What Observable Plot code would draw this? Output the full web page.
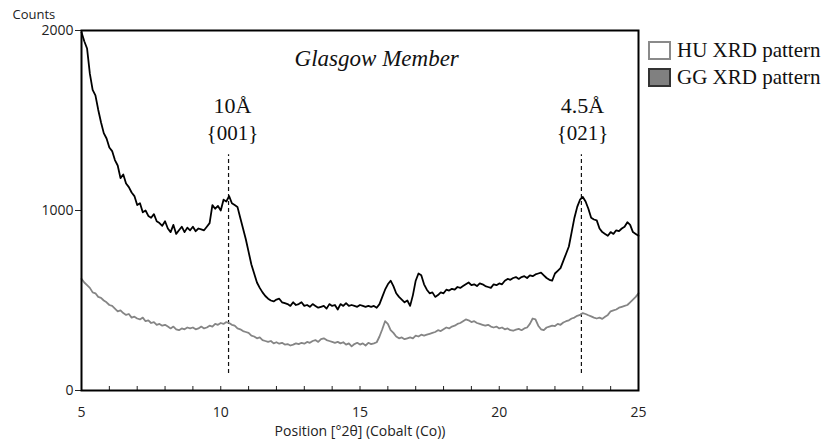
<!DOCTYPE html>
<html>
<head>
<meta charset="utf-8">
<script src="https://cdn.jsdelivr.net/npm/d3@7"></script>
<script src="https://cdn.jsdelivr.net/npm/@observablehq/plot@0.6"></script>
<style>
  html, body { margin: 0; padding: 0; background: #fff; }
  #wrap { position: relative; width: 822px; height: 441px; overflow: hidden; }
  .legend { position: absolute; left: 648px; top: 37px; font-family: "Liberation Serif", serif; font-size: 21px; color: #111; white-space: nowrap; }
  .legend .row { display: flex; align-items: center; height: 26px; margin-bottom: 1px; }
  .legend .sw { width: 23px; height: 19px; box-sizing: border-box; margin-right: 6px; }
</style>
</head>
<body>
<div id="wrap"></div>
<script>
// 2θ scan grid (degrees, Co Kα): start, step
const scanStart = 5.0;
const scanStep = 0.1;

// GG XRD pattern (counts), one value per step from 5.0° to 25.0°
const ggCounts = [
  1990, 1940, 1900, 1760, 1670, 1640, 1560, 1490, 1430, 1400,
  1350, 1330, 1280, 1250, 1180, 1200, 1150, 1130, 1100, 1080,
  1030, 1040, 990, 1000, 970, 960, 980, 940, 930, 915,
  940, 900, 880, 920, 870, 890, 910, 880, 905, 890,
  910, 885, 900, 895, 890, 910, 930, 1030, 1010, 1025,
  1000, 1060, 1050, 1080, 1040, 1030, 1020, 960, 900, 840,
  770, 700, 650, 600, 570, 545, 525, 510, 500, 495,
  505, 510, 490, 485, 480, 470, 490, 475, 480, 490,
  470, 475, 465, 480, 470, 460, 465, 470, 455, 480,
  470, 475, 450, 480, 470, 485, 470, 475, 470, 465,
  475, 470, 465, 470, 465, 470, 460, 480, 520, 560,
  590, 610, 580, 540, 520, 505, 490, 500, 470, 530,
  610, 650, 640, 590, 560, 540, 545, 520, 530, 545,
  540, 560, 555, 565, 560, 575, 570, 580, 590, 600,
  585, 590, 580, 595, 590, 580, 575, 570, 590, 585,
  595, 590, 610, 620, 615, 625, 630, 620, 630, 635,
  625, 640, 635, 645, 650, 655, 640, 625, 615, 610,
  650, 665, 680, 720, 760, 800, 880, 960, 1020, 1060,
  1075, 1050, 1010, 960, 950, 945, 900, 880, 870, 860,
  880, 870, 890, 885, 900, 910, 935, 920, 880, 870,
  860
];

// HU XRD pattern (counts)
const huCounts = [
  620, 600, 585, 570, 545, 540, 520, 515, 500, 490,
  475, 470, 455, 440, 445, 430, 420, 425, 405, 410,
  400, 395, 405, 385, 390, 375, 380, 365, 370, 360,
  365, 355, 345, 355, 340, 335, 345, 340, 350, 345,
  350, 340, 345, 355, 345, 350, 360, 355, 370, 365,
  375, 370, 380, 375, 365, 360, 345, 340, 330, 325,
  320, 305, 300, 290, 295, 280, 275, 270, 275, 262,
  268, 260, 265, 255, 258, 250, 255, 262, 258, 265,
  260, 270, 265, 275, 280, 270, 285, 290, 280, 275,
  270, 265, 270, 262, 268, 255, 262, 245, 258, 265,
  255, 262, 250, 265, 258, 262, 268, 300, 340, 385,
  370, 335, 320, 300, 290, 295, 285, 290, 295, 290,
  305, 300, 310, 305, 310, 315, 320, 325, 335, 330,
  340, 350, 345, 355, 360, 370, 375, 385, 395, 390,
  380, 385, 375, 370, 365, 360, 365, 355, 350, 355,
  345, 350, 340, 345, 335, 332, 338, 342, 335, 345,
  350, 370, 400, 395, 360, 340, 335, 350, 355, 360,
  358, 370, 365, 378, 385, 390, 400, 405, 415, 420,
  430, 425, 418, 412, 405, 400, 405, 398, 410, 420,
  440, 445, 450, 460, 465, 470, 475, 490, 505, 520,
  540
];

// Peak annotations
const peakPos = [10.28, 22.95];
const peakD = ["10Å", "4.5Å"];
const peakHkl = ["{001}", "{021}"];
const peakLabelX = [10.42, 22.99];

const xTicksMajor = [5, 10, 15, 20, 25];
const yTicks = [0, 1000, 2000];

const gg = ggCounts.map((c, i) => ({x: scanStart + i * scanStep, y: c}));
const hu = huCounts.map((c, i) => ({x: scanStart + i * scanStep, y: c}));
const peaks = peakPos.map((p, i) => ({x: p, lx: peakLabelX[i], d: peakD[i], hkl: peakHkl[i]}));

const serif = "'Liberation Serif', 'DejaVu Serif', serif";

const chart = Plot.plot({
  width: 822,
  height: 441,
  marginLeft: 81,
  marginRight: 184,
  marginTop: 30,
  marginBottom: 51,
  style: {fontFamily: "'Open Sans', sans-serif", fontSize: "13px", color: "#222", background: "#fff"},
  x: {domain: [5, 25]},
  y: {domain: [0, 2000]},
  marks: [
    Plot.axisX({ticks: d3.range(5, 26, 1), tickSize: -4, tickPadding: 21,
      tickFormat: d => xTicksMajor.includes(d) ? String(d) : "",
      label: "Position [°2θ] (Cobalt (Co))", labelAnchor: "center", labelOffset: 45, labelArrow: "none",
      fontSize: 14}),
    Plot.axisY({ticks: yTicks, tickSize: 6, tickPadding: 2, tickFormat: d => String(d), label: null, fontSize: 14}),
    Plot.text(["Counts"], {frameAnchor: "top-left", dx: -69, dy: -21, fontSize: 13, fill: "#222"}),
    Plot.ruleX(peaks, {x: "x", y1: 95, y2: 1310, stroke: "#111", strokeWidth: 1.2, strokeDasharray: "4,3"}),
    Plot.line(hu, {x: "x", y: "y", stroke: "#858585", strokeWidth: 1.8}),
    Plot.line(gg, {x: "x", y: "y", stroke: "#000", strokeWidth: 1.8}),
    Plot.text(peaks, {x: "lx", y: 1580, text: "d", fontFamily: serif, fontSize: 22, fill: "#111"}),
    Plot.text(peaks, {x: "lx", y: 1428, text: "hkl", fontFamily: serif, fontSize: 21, fill: "#111"}),
    Plot.text(["Glasgow Member"], {x: 15.6, y: 1844, fontFamily: serif, fontStyle: "italic", fontSize: 23, fill: "#111"}),
    Plot.frame({stroke: "#000", strokeWidth: 2})
  ]
});

const wrap = document.getElementById("wrap");
wrap.appendChild(chart);

const legend = document.createElement("div");
legend.className = "legend";
legend.innerHTML = `
  <div class="row"><div class="sw" style="background:#fff;border:2px solid #8a8a8a"></div>HU XRD pattern</div>
  <div class="row"><div class="sw" style="background:#808080;border:2px solid #333"></div>GG XRD pattern</div>`;
wrap.appendChild(legend);
</script>
</body>
</html>
